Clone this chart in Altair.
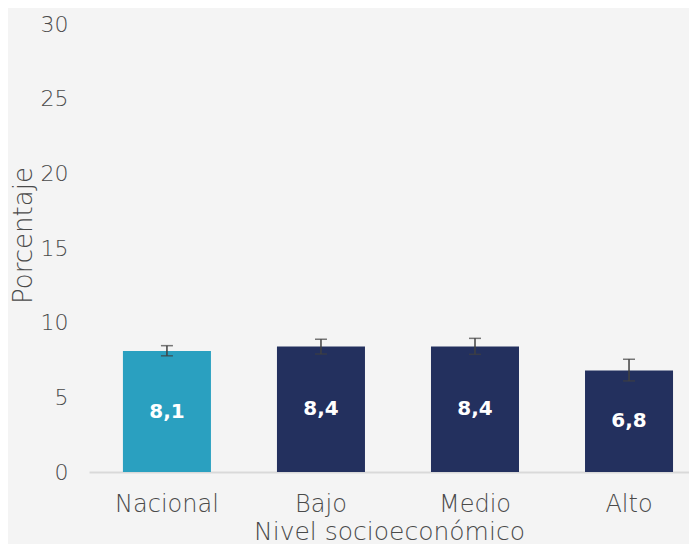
import altair as alt
import pandas as pd

categories = ["Nacional", "Bajo", "Medio", "Alto"]
values = [8.1, 8.4, 8.4, 6.8]
err_low = [7.78, 7.9, 7.88, 6.1]
err_high = [8.46, 8.89, 8.95, 7.55]
labels = ["8,1", "8,4", "8,4", "6,8"]
colors = ["#2aa0c0", "#23305e", "#23305e", "#23305e"]

df = pd.DataFrame({
    "cat": categories,
    "val": values,
    "lo": err_low,
    "hi": err_high,
    "lab": labels,
    "col": colors,
    "mid": [v / 2 for v in values],
})

FONT = "DejaVu Sans"
GRAY = "#4a4a4a"
YTITLE = "Porcentaje"

x = alt.X(
    "cat:N",
    sort=categories,
    scale=alt.Scale(paddingInner=0.4286, paddingOuter=0.162, align=0.68),
    axis=alt.Axis(
        title="Nivel socioeconómico",
        labelAngle=0,
        labelFontSize=24,
        labelFontWeight=200,
        labelColor=GRAY,
        labelFont=FONT,
        labelPadding=20,
        ticks=False,
        domainColor="#d9d9d9",
        domainWidth=2,
        titleFontSize=25,
        titleFont=FONT,
        titleFontWeight=200,
        titleColor=GRAY,
        titlePadding=3,
    ),
)

y_scale = alt.Scale(domain=[0, 30])

bars = alt.Chart(df).mark_bar().encode(
    x=x,
    y=alt.Y(
        "val:Q",
        scale=y_scale,
        title=YTITLE,
        axis=alt.Axis(
            values=[0, 5, 10, 15, 20, 25, 30],
            grid=False,
            domain=False,
            ticks=False,
            labelFontSize=22,
            labelFontWeight=200,
            labelColor=GRAY,
            labelFont=FONT,
            labelPadding=21,
            titleFontSize=26,
            titleFont=FONT,
            titleFontWeight=200,
            titleColor=GRAY,
            titlePadding=4,
            titleY=211,
        ),
    ),
    color=alt.Color("col:N", scale=None),
)

err = alt.Chart(df).mark_errorbar(ticks=alt.MarkConfig(size=12), color="#404040", thickness=1.5).encode(
    x=alt.X("cat:N", sort=categories),
    y=alt.Y("lo:Q", scale=y_scale, title=YTITLE),
    y2="hi:Q",
)

text = alt.Chart(df).mark_text(
    color="white", fontSize=20, fontWeight="bold", font=FONT, baseline="middle"
).encode(
    x=alt.X("cat:N", sort=categories),
    y=alt.Y("mid:Q", scale=y_scale, title=YTITLE),
    text="lab:N",
)

chart = alt.layer(bars, err, text).properties(
    width=600,
    height=448,
    background="#f4f4f4",
    padding={"left": 81, "top": 16, "right": 0, "bottom": 72},
    autosize=alt.AutoSizeParams(type="none"),
).configure_view(stroke=None)

chart.save("out.html", embed_options={"renderer": "svg", "actions": False})
